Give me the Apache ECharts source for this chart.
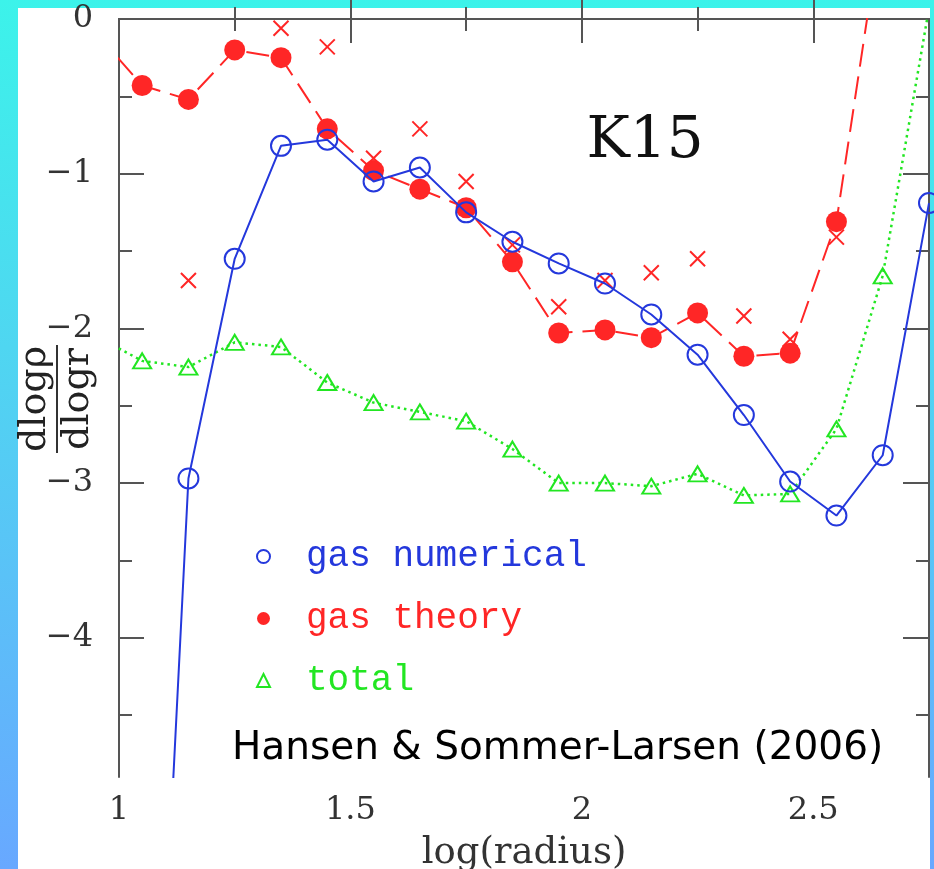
<!DOCTYPE html>
<html>
<head>
<meta charset="utf-8">
<script src="https://cdn.jsdelivr.net/npm/echarts@6/dist/echarts.min.js"></script>
<style>
html, body {
  margin: 0;
  padding: 0;
  width: 934px;
  height: 869px;
  overflow: hidden;
  background: linear-gradient(to bottom, #3cf3ea 0%, #4fd6f1 40%, #68a8ff 100%);
}
#panel {
  position: absolute;
  left: 18px;
  top: 8px;
  width: 912px;
  height: 861px;
  background: #fff;
}
#main {
  position: absolute;
  left: 0;
  top: 0;
  width: 934px;
  height: 869px;
}
</style>
</head>
<body>
<div id="panel"></div>
<div id="main"></div>
<script>
// log(radius) of every bin
var radius = [0.95, 1.05, 1.15, 1.25, 1.35, 1.45, 1.55, 1.65, 1.75, 1.85, 1.95, 2.05, 2.15, 2.25, 2.35, 2.45, 2.55, 2.65, 2.75]
// dlog(rho)/dlog(r) per bin, null where there is no point
var gasNumerical = [null, -8.9, -2.97, -1.55, -0.82, -0.78, -1.05, -0.96, -1.25, -1.44, -1.58, -1.71, -1.91, -2.17, -2.56, -2.99, -3.21, -2.82, -1.19]
var gasTheory = [-0.09, -0.43, -0.52, -0.20, -0.25, -0.71, -0.98, -1.10, -1.22, -1.57, -2.03, -2.01, -2.06, -1.90, -2.18, -2.16, -1.31, 0.67, null]
var gasCross = [null, null, -1.69, null, -0.06, -0.18, -0.90, -0.71, -1.05, -1.46, -1.86, -1.69, -1.64, -1.55, -1.92, -2.07, -1.41, null, null]
var total = [-2.05, -2.21, -2.25, -2.09, -2.12, -2.35, -2.48, -2.54, -2.60, -2.78, -3.00, -3.00, -3.02, -2.94, -3.08, -3.07, -2.65, -1.66, 0.07]

// tick positions
var xLabels = [1, 1.5, 2, 2.5]
var xMajor = [1.5, 2, 2.5]
var xMinor = [1.25, 1.75, 2.25]
var yMajor = [0, -1, -2, -3, -4]
var yMinor = [-0.5, -1.5, -2.5, -3.5, -4.5]

var blue = '#2438dc'
var red = '#ff2626'
var green = '#22e622'
var axisColor = '#555'

function pairs (xs, ys) {
  var out = []
  for (var i = 0; i < xs.length; i++) {
    out.push([xs[i], ys[i]])
  }
  return out
}

function minus (v) {
  return v < 0 ? '\u2212' + (-v) : String(v)
}

var tickStyle = { color: axisColor, width: 2 }
var labelFont = { fontFamily: 'DejaVu Serif', fontSize: 32, color: '#333' }

function xAx (grid, pos, len, ticks, line) {
  return {
    type: 'value',
    gridIndex: grid,
    position: pos,
    min: 1,
    max: 2.75,
    axisLine: { show: line, lineStyle: { color: axisColor, width: 2 } },
    axisTick: { show: true, inside: true, length: len, customValues: ticks, lineStyle: tickStyle },
    axisLabel: { show: false },
    splitLine: { show: false }
  }
}
function yAx (grid, pos, len, ticks, line) {
  return {
    type: 'value',
    gridIndex: grid,
    position: pos,
    min: -4.9,
    max: 0,
    axisLine: { show: line, lineStyle: { color: axisColor, width: 2 } },
    axisTick: { show: true, inside: true, length: len, customValues: ticks, lineStyle: tickStyle },
    axisLabel: { show: false },
    splitLine: { show: false }
  }
}

var xBottom = xAx(0, 'bottom', 24, xMajor, true)
xBottom.axisLabel = Object.assign({ show: true, customValues: xLabels, margin: 18, formatter: function (v) { return String(v) } }, labelFont)
xBottom.name = 'log(radius)'
xBottom.nameLocation = 'middle'
xBottom.nameGap = 58
xBottom.nameTextStyle = { fontFamily: 'DejaVu Serif', fontSize: 37, color: '#333' }

var yLeft = yAx(0, 'left', 25, yMajor, true)
yLeft.axisLabel = Object.assign({ show: true, customValues: yMajor, margin: 26, formatter: minus }, labelFont)

var chart = echarts.init(document.getElementById('main'))
var option = {
  animation: false,
  backgroundColor: 'transparent',
  grid: [
    { left: 119, top: 19, right: 5, bottom: 92, outerBoundsMode: 'none', containLabel: false },
    { left: 119, top: 19, right: 5, bottom: 92, outerBoundsMode: 'none', containLabel: false }
  ],
  xAxis: [
    xBottom,
    xAx(0, 'top', 24, xMajor, true),
    xAx(1, 'bottom', 12, xMinor, false),
    xAx(1, 'top', 12, xMinor, false)
  ],
  yAxis: [
    yLeft,
    yAx(0, 'right', 26, yMajor, true),
    yAx(1, 'left', 13, yMinor, false),
    yAx(1, 'right', 13, yMinor, false)
  ],
  legend: {
    orient: 'vertical',
    left: 251,
    top: 533,
    itemGap: 25,
    itemWidth: 13,
    itemHeight: 13,
    selectedMode: false,
    textStyle: { fontFamily: 'Liberation Mono', fontSize: 36, lineHeight: 37, padding: [0, 0, 0, 31] },
    data: [
      { name: 'gas numerical', icon: 'circle', itemStyle: { color: 'transparent', borderColor: blue, borderWidth: 2 }, textStyle: { color: blue } },
      { name: 'gas theory', icon: 'circle', itemStyle: { color: red, borderWidth: 0 }, textStyle: { color: red } },
      { name: 'total', icon: 'triangle', itemStyle: { color: 'transparent', borderColor: green, borderWidth: 2 }, textStyle: { color: green } }
    ]
  },
  series: [
    {
      name: 'total',
      type: 'line',
      data: pairs(radius, total),
      clip: true,
      symbol: 'triangle',
      symbolSize: [18, 15],
      lineStyle: { color: green, width: 2.5, type: [2.5, 4] },
      itemStyle: { color: 'transparent', borderColor: green, borderWidth: 2 },
      z: 2
    },
    {
      name: 'gas theory',
      type: 'line',
      data: pairs(radius, gasTheory),
      clip: true,
      symbol: 'circle',
      symbolSize: 21,
      lineStyle: { color: red, width: 2, type: [23, 10] },
      itemStyle: { color: red },
      z: 3
    },
    {
      name: 'gas cross',
      type: 'line',
      data: pairs(radius, gasCross),
      clip: true,
      symbol: 'path://M0 0L10 10M10 0L0 10',
      symbolSize: 15,
      lineStyle: { width: 0, opacity: 0 },
      itemStyle: { color: 'transparent', borderColor: red, borderWidth: 2 },
      z: 3
    },
    {
      name: 'gas numerical',
      type: 'line',
      data: pairs(radius, gasNumerical),
      clip: true,
      symbol: 'circle',
      symbolSize: 20,
      lineStyle: { color: blue, width: 2 },
      itemStyle: { color: 'transparent', borderColor: blue, borderWidth: 2 },
      z: 4
    }
  ],
  graphic: [
    {
      type: 'text',
      x: 645,
      y: 142,
      style: { text: 'K15', fontFamily: 'DejaVu Serif', fontSize: 58, fill: '#111', align: 'center', verticalAlign: 'middle' }
    },
    {
      type: 'group',
      x: 57,
      y: 399,
      rotation: Math.PI / 2,
      children: [
        { type: 'text', x: 0, y: -22, style: { text: 'dlog\u03c1', fontFamily: 'DejaVu Serif', fontSize: 38, fill: '#222', align: 'center', verticalAlign: 'middle' } },
        { type: 'line', shape: { x1: -54, y1: 0, x2: 54, y2: 0 }, style: { stroke: '#333', lineWidth: 2 } },
        { type: 'text', x: 0, y: 21, style: { text: 'dlogr', fontFamily: 'DejaVu Serif', fontSize: 38, fill: '#222', align: 'center', verticalAlign: 'middle' } }
      ]
    },
    {
      type: 'text',
      x: 232,
      y: 749,
      z: 10,
      style: { text: 'Hansen & Sommer-Larsen (2006)', fontFamily: 'DejaVu Sans', fontSize: 39, fill: '#000', align: 'left', verticalAlign: 'middle' }
    }
  ]
}
chart.setOption(option)
</script>
</body>
</html>
